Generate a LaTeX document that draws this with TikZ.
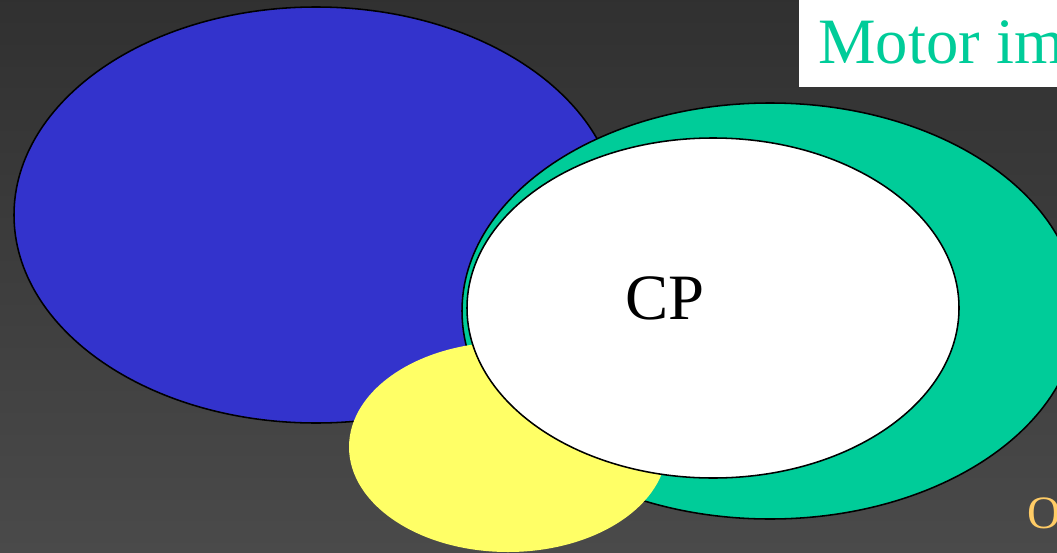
\documentclass[tikz,border=0pt]{standalone}
\usepackage{fontspec}
\setmainfont{Liberation Serif}
\usetikzlibrary{shapes.geometric,positioning}

\definecolor{areablue}{HTML}{3333CC}
\definecolor{areagreen}{HTML}{00CC99}
\definecolor{areayellow}{HTML}{FFFF66}
\definecolor{labelorange}{HTML}{FFCC66}

\tikzset{
  area/.style={ellipse, inner sep=0pt, draw=black, line width=1.1pt},
}

\begin{document}
\begin{tikzpicture}[x=0.025cm, y=-0.025cm]
    % Frame and background
    \useasboundingbox (0,0) rectangle (1057,552);
    \clip (0,0) rectangle (1057,552);
    \shade[top color=black!81, bottom color=black!71] (0,0) rectangle (1057,552);

    % Areas
    \node[area, fill=areablue, minimum width=604*0.025cm, minimum height=416*0.025cm] (motor) at (316,215) {};
    \node[area, fill=areagreen, minimum width=616*0.025cm, minimum height=416*0.025cm] (premotor) at (770,311) {};
    \node[ellipse, inner sep=0pt, fill=areayellow, minimum width=318*0.025cm, minimum height=210*0.025cm] (sensory) at (508,447) {};
    \node[area, fill=white, minimum width=492*0.025cm, minimum height=340*0.025cm] (cp) at (713,308) {};
    \node[font=\fontsize{46}{50}\selectfont] (cplabel) at (665,298) {CP};

    % Title box and corner label
    \fill[white] (799,0) rectangle (1057,87);
    \node[anchor=base west, inner sep=0pt, text=areagreen, font=\fontsize{46}{50}\selectfont] (title) at (818,63) {Motor im};
    \node[anchor=base west, inner sep=0pt, text=labelorange, font=\fontsize{33}{36}\selectfont] (corner) at (1027,528) {O};
\end{tikzpicture}
\end{document}
